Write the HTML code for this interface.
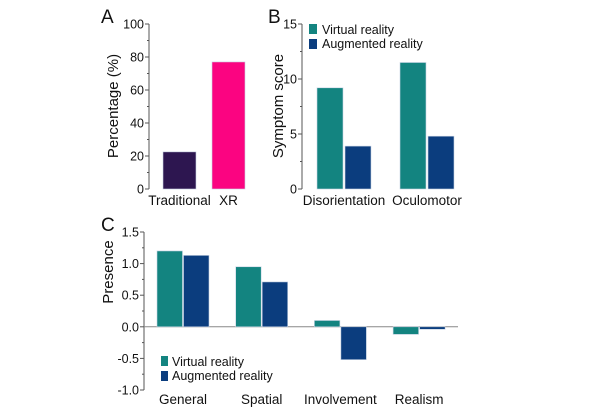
<!DOCTYPE html>
<html><head><meta charset="utf-8"><style>
body{margin:0;background:#fff}
svg{display:block;font-family:"Liberation Sans",Arial,sans-serif}
</style></head><body>
<svg id="c" width="600" height="411" viewBox="0 0 600 411" xmlns="http://www.w3.org/2000/svg"></svg>
<script>
const aCats=["Traditional","XR"];
const aVals=[22.5,77];
const aTicks=[0,20,40,60,80,100];
const bCats=["Disorientation","Oculomotor"];
const bVR=[9.2,11.5];
const bAR=[3.9,4.8];
const bTicks=[0,5,10,15];
const cCats=["General","Spatial","Involvement","Realism"];
const cVR=[1.2,0.95,0.1,-0.12];
const cAR=[1.13,0.71,-0.52,-0.04];
const cTicks=[-1.0,-0.5,0.0,0.5,1.0,1.5];
const VR="#138480",AR="#0b3d7e";
const svg=document.getElementById('c');
const NS="http://www.w3.org/2000/svg";
function el(t,a,txt){const e=document.createElementNS(NS,t);for(const k in a)e.setAttribute(k,a[k]);if(txt!==undefined)e.textContent=txt;svg.appendChild(e);return e;}
function axis(x,y0,y1,ticks,scale,fmt){
  const l=el('line',{x1:x,y1:y0,x2:x,y2:y1,stroke:'#555','stroke-width':1});
  
  ticks.forEach((t,i)=>{const y=scale(t);
    const tk=el('line',{x1:x-4,y1:y,x2:x,y2:y,stroke:'#555'});
    
    const tx=el('text',{x:x-5,y:y+4.5,'font-size':12.5,'text-anchor':'end',fill:'#111'},fmt(t));
    
    if(i<ticks.length-1){const ym=scale((t+ticks[i+1])/2);
      const m=el('line',{x1:x-2,y1:ym,x2:x,y2:ym,stroke:'#555'});
      }
  });
}
function bar(x,w,v,scale,col,name){const y0=scale(0),y1=scale(v);
  const r=el('rect',{x:x,y:Math.min(y0,y1),width:w,height:Math.abs(y1-y0),fill:col,stroke:'#c8d4e4','stroke-width':0.6});
  }
function label(x,y,s,size,name,extra){const t=el('text',Object.assign({x:x,y:y,'font-size':size,fill:'#111'},extra||{}),s);
  return t;}
// Panel A
const aY=v=>189-(v/100)*165;
label(101,23,"A",19,'panel-a-label');
axis(149,aY(0),aY(100),aTicks,aY,v=>String(v));
const aCols=["#2d1650","#fb0481"];
aCats.forEach((c,i)=>{const x=163+i*49;bar(x,33,aVals[i],aY,aCols[i],'bar-'+c.toLowerCase());
  label(x+16.5,205,c,13.5,'x-label-'+c.toLowerCase(),{'text-anchor':'middle'});});
label(0,0,"Percentage (%)",15,'y-axis-title-a',{'text-anchor':'middle',transform:'translate(118,106) rotate(-90)'});
// Panel B
const bY=v=>189-(v/15)*165;
label(268,23,"B",19,'panel-b-label');
axis(302,bY(0),bY(15),bTicks,bY,v=>String(v));
bCats.forEach((c,i)=>{const x=317+i*83;bar(x,26,bVR[i],bY,VR,'bar-vr-'+c.toLowerCase());bar(x+28,26,bAR[i],bY,AR,'bar-ar-'+c.toLowerCase());
  label(x+27,205,c,13.5,'x-label-'+c.toLowerCase(),{'text-anchor':'middle'});});
label(0,0,"Symptom score",15,'y-axis-title-b',{'text-anchor':'middle',transform:'translate(283,106) rotate(-90)'});
let r;
r=el('rect',{x:309,y:24,width:8,height:10,fill:VR});
r=el('rect',{x:309,y:39,width:8,height:10,fill:AR});
label(322,34,"Virtual reality",12.5,'legend-entry-vr');
label(322,48,"Augmented reality",12.5,'legend-entry-ar');
// Panel C
const cY=v=>326.8-v*63.2;
label(101,231,"C",19,'panel-c-label');
axis(144,cY(-1),cY(1.5),cTicks,cY,v=>v.toFixed(1));
const z=el('line',{x1:144,y1:cY(0),x2:458,y2:cY(0),stroke:'#888','stroke-width':1});

cCats.forEach((c,i)=>{const x=157+i*78.7;bar(x,25.5,cVR[i],cY,VR,'bar-vr-'+c.toLowerCase());bar(x+26.5,25.5,cAR[i],cY,AR,'bar-ar-'+c.toLowerCase());
  label(x+26,404,c,13.5,'x-label-'+c.toLowerCase(),{'text-anchor':'middle'});});
label(0,0,"Presence",15,'y-axis-title-c',{'text-anchor':'middle',transform:'translate(113,272) rotate(-90)'});
r=el('rect',{x:161,y:356,width:7,height:10,fill:VR});
r=el('rect',{x:161,y:371,width:7,height:10,fill:AR});
label(172,366,"Virtual reality",12.5,'legend-entry-vr-c');
label(172,380,"Augmented reality",12.5,'legend-entry-ar-c');
</script>
</body></html>
